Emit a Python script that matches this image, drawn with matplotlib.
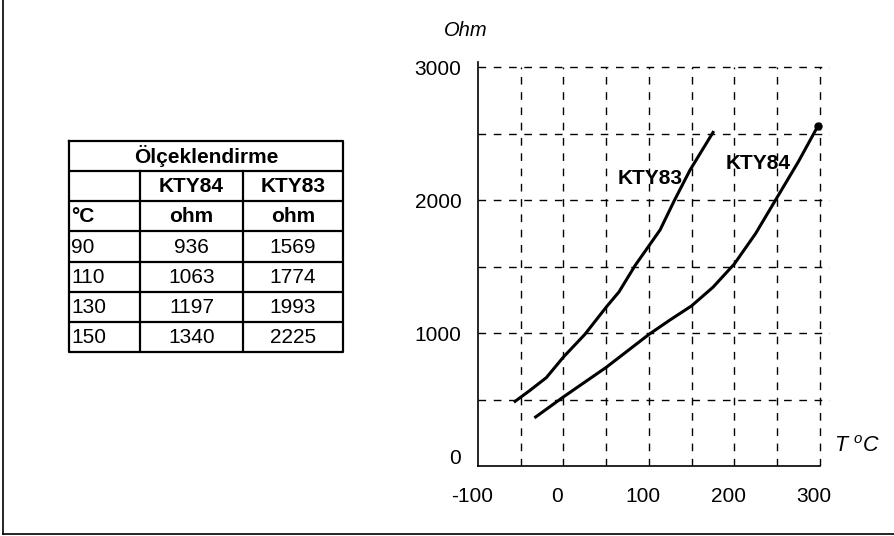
import matplotlib
matplotlib.use("Agg")
import matplotlib.pyplot as plt
import matplotlib.transforms as mtransforms
from matplotlib.lines import Line2D

plt.rcParams['font.family'] = ['Liberation Sans', 'DejaVu Sans']
plt.rcParams['mathtext.fontset'] = 'custom'
plt.rcParams['mathtext.it'] = 'Liberation Sans:italic'
plt.rcParams['mathtext.rm'] = 'Liberation Sans'

# curve readings (T in degC, R in ohm)
kty83_t = [-58, -40, -20, 0, 25, 50, 65, 84, 113, 130, 148, 176]
kty83_r = [480, 565, 665, 820, 990, 1195, 1310, 1510, 1775, 2000, 2225, 2520]
kty84_t = [-34, 0, 50, 100, 125, 150, 175, 200, 225, 250, 275, 298]
kty84_r = [362, 520, 742, 990, 1100, 1205, 1345, 1520, 1750, 2020, 2290, 2560]

# table
table_title = "Ölçeklendirme"
table_heads = ["", "KTY84", "KTY83"]
table_units = ["°C", "ohm", "ohm"]
table_temps = [90, 110, 130, 150]
table_kty84 = [936, 1063, 1197, 1340]
table_kty83 = [1569, 1774, 1993, 2225]

x_ticks = [-100, 0, 100, 200, 300]
y_ticks = [0, 1000, 2000, 3000]
x_grid = [-50, 0, 50, 100, 150, 200, 250, 300]
y_grid = [500, 1000, 1500, 2000, 2500, 3000]

W, H = 894, 536
fig = plt.figure(figsize=(W / 100, H / 100), dpi=100)

# ---- chart ----
ax = fig.add_axes([478 / W, 70 / H, (830 - 478) / W, (466 - 62) / H])
ax.set_xlim(-100, 312)
ax.set_ylim(0, 3040)

dash = (0, (5.5, 5.5))
ax.vlines(x_grid, 0, 3000, colors='black', linestyles=dash, linewidth=1.0)
ax.hlines(y_grid, -100, 312, colors='black', linestyles=dash, linewidth=1.0)

ax.plot(kty83_t, kty83_r, color='black', lw=2.2, solid_capstyle='butt')
ax.plot(kty84_t, kty84_r, color='black', lw=2.2, solid_capstyle='butt')
ax.plot(kty84_t[-1], kty84_r[-1], 'o', color='black', ms=5)

ax.text(101, 2165, "KTY83", fontsize=15, fontweight='bold', ha='center', va='center')
ax.text(228, 2280, "KTY84", fontsize=15, fontweight='bold', ha='center', va='center')

for s in ['top', 'right']:
    ax.spines[s].set_visible(False)
ax.spines['bottom'].set_bounds(-100, 300)
ax.spines['left'].set_linewidth(1.2)
ax.spines['bottom'].set_linewidth(1.2)

ax.set_xticks(x_ticks)
ax.set_xticklabels([str(v) for v in x_ticks])
ax.set_yticks(y_ticks)
ax.set_yticklabels([str(v) for v in y_ticks])
ax.tick_params(axis='both', length=0, labelsize=15)
ax.tick_params(axis='x', pad=15)
ax.tick_params(axis='y', pad=12)
shift = mtransforms.ScaledTranslation(-6 / 100, 0, fig.dpi_scale_trans)
for lab in ax.get_xticklabels():
    lab.set_transform(lab.get_transform() + shift)
up = mtransforms.ScaledTranslation(0, 9 / 100, fig.dpi_scale_trans)
zero_lab = ax.get_yticklabels()[0]
zero_lab.set_transform(zero_lab.get_transform() + up)

ax.text(-114, 3275, "Ohm", fontsize=14.5, fontstyle='italic', ha='center', va='center', clip_on=False)
ax.text(344, 150, r"$T\ ^{o}C$", fontsize=15.5, ha='center', va='center', clip_on=False)

# ---- table ----
tx0, tx1, ty0, ty1 = 69, 343, 141, 352
tax = fig.add_axes([tx0 / W, (H - ty1) / H, (tx1 - tx0) / W, (ty1 - ty0) / H])
tax.set_xlim(tx0, tx1)
tax.set_ylim(7, 0)
tax.axis('off')
cols = [69, 140, 243, 343]
lw = 1.6
tax.plot([cols[0], cols[-1], cols[-1], cols[0], cols[0]], [0, 0, 7, 7, 0], color='black', lw=lw, clip_on=False)
for r in range(1, 7):
    tax.plot([cols[0], cols[-1]], [r, r], color='black', lw=lw)
for c in cols[1:3]:
    tax.plot([c, c], [1, 7], color='black', lw=lw)

fs = 15
tax.text((cols[0] + cols[-1]) / 2, 0.5, table_title, fontsize=fs, fontweight='bold', ha='center', va='center')
rows = [(table_heads, True), (table_units, True)]
for t, a, b in zip(table_temps, table_kty84, table_kty83):
    rows.append(([str(t), str(a), str(b)], False))
for i, (cells, bold) in enumerate(rows):
    y = i + 1.52
    w = 'bold' if bold else 'normal'
    tax.text(cols[0] + 2, y, cells[0], fontsize=fs, fontweight=w, ha='left', va='center')
    tax.text((cols[1] + cols[2]) / 2, y, cells[1], fontsize=fs, fontweight=w, ha='center', va='center')
    tax.text((cols[2] + cols[3]) / 2, y, cells[2], fontsize=fs, fontweight=w, ha='center', va='center')

# frame lines (left and bottom)
fig.add_artist(Line2D([2.5 / W, 2.5 / W], [2.5 / H, 1], transform=fig.transFigure, color='black', lw=1.2))
fig.add_artist(Line2D([2.5 / W, 1], [2.5 / H, 2.5 / H], transform=fig.transFigure, color='black', lw=1.2))

fig.savefig("out.png", dpi=100)
